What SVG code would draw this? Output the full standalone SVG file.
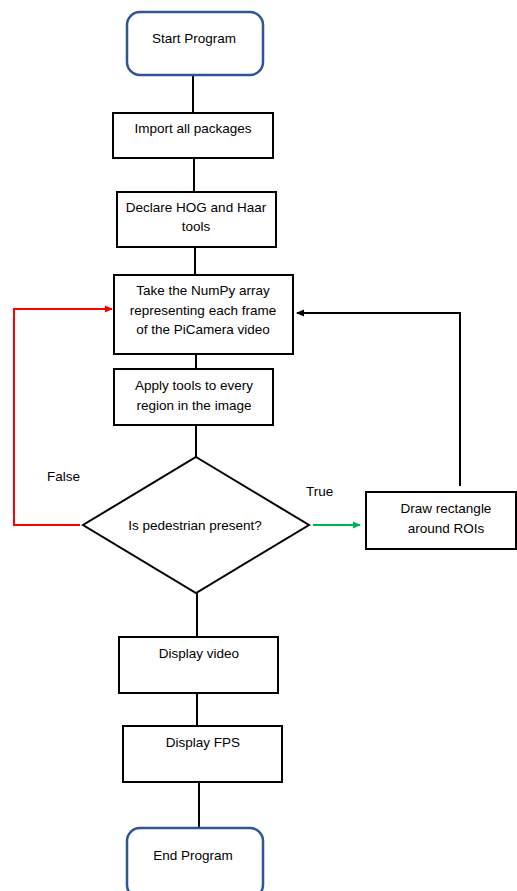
<svg xmlns="http://www.w3.org/2000/svg" width="517" height="891" viewBox="0 0 517 891">
<style>
.box{fill:#fff;stroke:#000;stroke-width:2}
.term{fill:#fff;stroke:#2F5597;stroke-width:2.5}
.t{font-family:"Liberation Sans",Arial,sans-serif;font-size:13.5px;fill:#000;text-anchor:middle;dominant-baseline:central}
.l{font-family:"Liberation Sans",Arial,sans-serif;font-size:13.5px;fill:#000;dominant-baseline:central}
.c{fill:none;stroke:#000;stroke-width:2}
</style>
<defs>
<marker id="ab" markerWidth="8" markerHeight="8" refX="7" refY="4" orient="auto" markerUnits="userSpaceOnUse"><path d="M0,0.5 L8,4 L0,7.5 Z" fill="#000"/></marker>
<marker id="ar" markerWidth="8" markerHeight="8" refX="7" refY="4" orient="auto" markerUnits="userSpaceOnUse"><path d="M0,0.5 L8,4 L0,7.5 Z" fill="#FF0000"/></marker>
<marker id="ag" markerWidth="8" markerHeight="8" refX="7" refY="4" orient="auto" markerUnits="userSpaceOnUse"><path d="M0,0.5 L8,4 L0,7.5 Z" fill="#00B050"/></marker>
</defs>
<rect width="517" height="891" fill="#fff"/>
<g id="connectors">
<path class="c" d="M193,75 V113"/>
<path class="c" d="M194,158 V192"/>
<path class="c" d="M195,247 V275"/>
<path class="c" d="M196,354 V369"/>
<path class="c" d="M196,425 V457"/>
<path class="c" d="M197,593 V637"/>
<path class="c" d="M197,693 V726"/>
<path class="c" d="M199,782 V828"/>
<path d="M80,525 H14 V309 H112" fill="none" stroke="#FF0000" stroke-width="2" marker-end="url(#ar)"/>
<path d="M313,525 H360" fill="none" stroke="#00B050" stroke-width="2" marker-end="url(#ag)"/>
<path class="c" d="M460,486 V313 H297" marker-end="url(#ab)"/>
<text class="l" x="47" y="476">False</text>
<text class="l" x="306" y="491">True</text>
</g>
<g id="start"><rect class="term" x="127" y="12" width="136" height="63" rx="13"/><text class="t" x="194" y="38">Start Program</text></g>
<g id="import"><rect class="box" x="113" y="113" width="160" height="45"/><text class="t" x="193" y="128">Import all packages</text></g>
<g id="declare"><rect class="box" x="117" y="192" width="159" height="55"/><text class="t" x="196" y="207">Declare HOG and Haar</text><text class="t" x="196" y="226">tools</text></g>
<g id="take"><rect class="box" x="114" y="275" width="179" height="79"/><text class="t" x="203" y="290">Take the NumPy array</text><text class="t" x="203" y="310">representing each frame</text><text class="t" x="203" y="329">of the PiCamera video</text></g>
<g id="apply"><rect class="box" x="114" y="369" width="159" height="56"/><text class="t" x="194" y="385">Apply tools to every</text><text class="t" x="194" y="405">region in the image</text></g>
<g id="decision"><path class="box" d="M196,457 L309,525 L196,593 L83,525 Z"/><text class="t" x="195" y="525">Is pedestrian present?</text></g>
<g id="draw"><rect class="box" x="366" y="492" width="150" height="57"/><text class="t" x="446" y="508">Draw rectangle</text><text class="t" x="446" y="528">around ROIs</text></g>
<g id="video"><rect class="box" x="119" y="637" width="159" height="56"/><text class="t" x="199" y="653">Display video</text></g>
<g id="fps"><rect class="box" x="123" y="726" width="159" height="56"/><text class="t" x="203" y="742">Display FPS</text></g>
<g id="end"><rect class="term" x="127" y="828" width="136" height="70" rx="13"/><text class="t" x="193" y="855">End Program</text></g>
</svg>
